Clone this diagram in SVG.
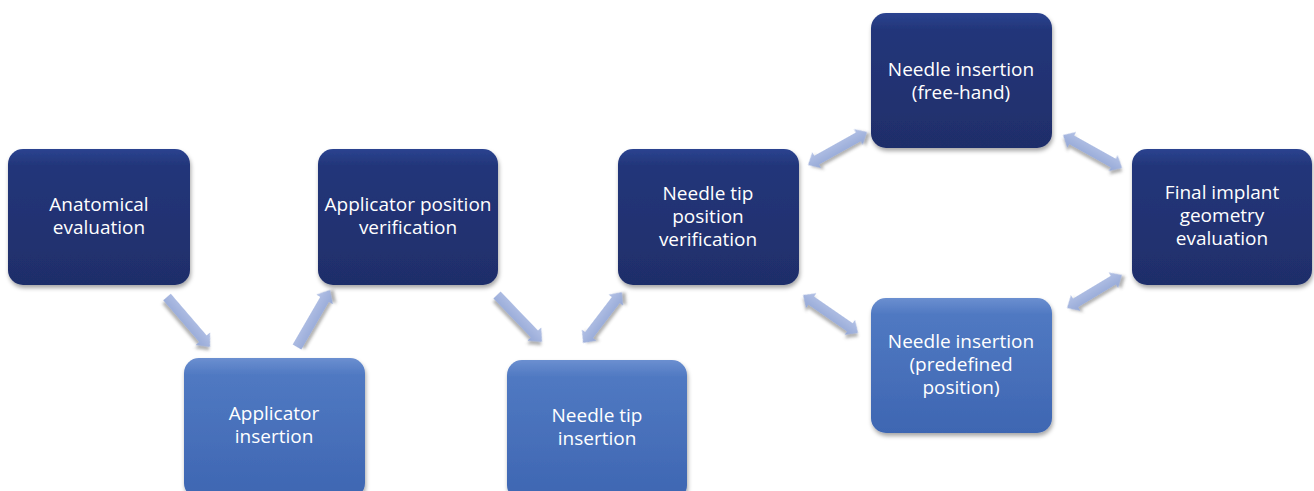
<svg xmlns="http://www.w3.org/2000/svg" width="1314" height="491" viewBox="0 0 1314 491">
<defs>
<linearGradient id="gDark" x1="0" y1="0" x2="0" y2="1">
<stop offset="0" stop-color="#2b4390"/>
<stop offset="0.12" stop-color="#23367a"/>
<stop offset="1" stop-color="#1f2e6a"/>
</linearGradient>
<linearGradient id="gLight" x1="0" y1="0" x2="0" y2="1">
<stop offset="0" stop-color="#6b8fd0"/>
<stop offset="0.12" stop-color="#5079c2"/>
<stop offset="1" stop-color="#3e66b2"/>
</linearGradient>
<linearGradient id="gArrow" x1="0" y1="0" x2="0" y2="1">
<stop offset="0" stop-color="#b4c2e6"/>
<stop offset="1" stop-color="#94a7d6"/>
</linearGradient>
<filter id="shadow" x="-20%" y="-20%" width="140%" height="140%">
<feDropShadow dx="1" dy="3" stdDeviation="2" flood-color="#000" flood-opacity="0.35"/>
</filter>
<filter id="ashadow" x="-30%" y="-60%" width="160%" height="220%">
<feDropShadow dx="2" dy="3" stdDeviation="1.8" flood-color="#555" flood-opacity="0.45"/>
</filter>
</defs>
<style>
.dark{fill:url(#gDark);filter:url(#shadow)}
.light{fill:url(#gLight);filter:url(#shadow)}
.t{font-family:"Open Sans","Liberation Sans",sans-serif;font-size:19px;fill:#ffffff;text-anchor:middle}
.arr{fill:url(#gArrow);filter:url(#ashadow)}
</style>
<rect width="1314" height="491" fill="#ffffff"/>
<g id="connectors">
<path class="arr" transform="translate(167,297) rotate(49.3)" d="M0,-5 L55,-5 L55,-9.5 L66,0 L55,9.5 L55,5 L0,5 Z"/>
<path class="arr" transform="translate(297,347) rotate(-59.9)" d="M0,-5 L55,-5 L55,-9.5 L66,0 L55,9.5 L55,5 L0,5 Z"/>
<path class="arr" transform="translate(497,295) rotate(46.2)" d="M0,-5 L54,-5 L54,-9.5 L65,0 L54,9.5 L54,5 L0,5 Z"/>
<path class="arr" transform="translate(583,343) rotate(-52.6)" d="M0,0 L10,-9 L10,-5 L54,-5 L54,-9 L64,0 L54,9 L54,5 L10,5 L10,9 Z"/>
<path class="arr" transform="translate(808,165) rotate(-29.2)" d="M0,0 L10,-9 L10,-5 L57.6,-5 L57.6,-9 L67.6,0 L57.6,9 L57.6,5 L10,5 L10,9 Z"/>
<path class="arr" transform="translate(1063,135) rotate(29.2)" d="M0,0 L10,-9 L10,-5 L57.6,-5 L57.6,-9 L67.6,0 L57.6,9 L57.6,5 L10,5 L10,9 Z"/>
<path class="arr" transform="translate(803,295) rotate(34.6)" d="M0,0 L10,-9 L10,-5 L56.9,-5 L56.9,-9 L66.9,0 L56.9,9 L56.9,5 L10,5 L10,9 Z"/>
<path class="arr" transform="translate(1067,308) rotate(-31)" d="M0,0 L10,-9 L10,-5 L54.1,-5 L54.1,-9 L64.1,0 L54.1,9 L54.1,5 L10,5 L10,9 Z"/>
</g>
<g id="anatomical">
<rect class="dark" x="8" y="149" width="182" height="136" rx="15"/>
<text class="t" x="99" y="211"><tspan x="99">Anatomical</tspan><tspan x="99" dy="23">evaluation</tspan></text>
</g>
<g id="applicator-insertion">
<rect class="light" x="184" y="358" width="181" height="140" rx="15"/>
<text class="t" x="274" y="420"><tspan x="274">Applicator</tspan><tspan x="274" dy="23">insertion</tspan></text>
</g>
<g id="applicator-verification">
<rect class="dark" x="318" y="149" width="180" height="136" rx="15"/>
<text class="t" x="408" y="211"><tspan x="408">Applicator position</tspan><tspan x="408" dy="23">verification</tspan></text>
</g>
<g id="needle-tip-insertion">
<rect class="light" x="507" y="360" width="180" height="140" rx="15"/>
<text class="t" x="597" y="422"><tspan x="597">Needle tip</tspan><tspan x="597" dy="23">insertion</tspan></text>
</g>
<g id="needle-tip-verification">
<rect class="dark" x="618" y="149" width="181" height="136" rx="15"/>
<text class="t" x="708" y="200"><tspan x="708">Needle tip</tspan><tspan x="708" dy="23">position</tspan><tspan x="708" dy="23">verification</tspan></text>
</g>
<g id="needle-freehand">
<rect class="dark" x="871" y="13" width="181" height="135" rx="15"/>
<text class="t" x="961" y="76"><tspan x="961">Needle insertion</tspan><tspan x="961" dy="23">(free-hand)</tspan></text>
</g>
<g id="needle-predefined">
<rect class="light" x="871" y="298" width="181" height="135" rx="15"/>
<text class="t" x="961" y="348"><tspan x="961">Needle insertion</tspan><tspan x="961" dy="23">(predefined</tspan><tspan x="961" dy="23">position)</tspan></text>
</g>
<g id="final-evaluation">
<rect class="dark" x="1132" y="149" width="180" height="136" rx="15"/>
<text class="t" x="1222" y="199"><tspan x="1222">Final implant</tspan><tspan x="1222" dy="23">geometry</tspan><tspan x="1222" dy="23">evaluation</tspan></text>
</g>
</svg>
